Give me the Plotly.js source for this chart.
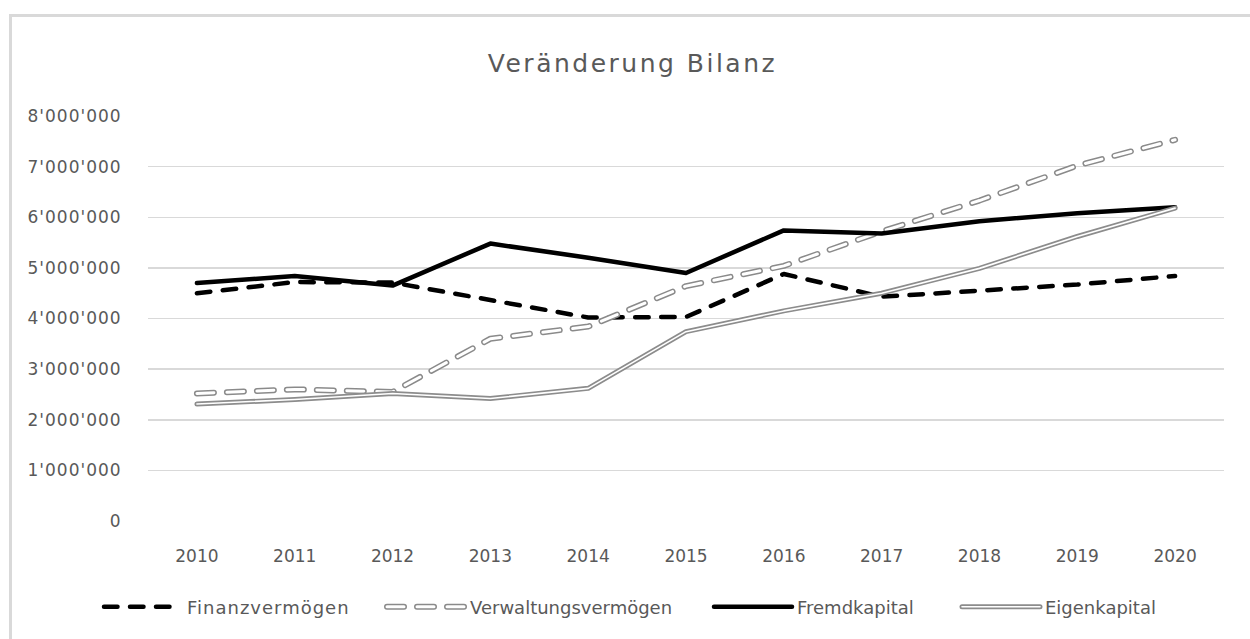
<!DOCTYPE html>
<html>
<head>
<meta charset="utf-8">
<script src="https://cdn.plot.ly/plotly-3.0.1.min.js"></script>
<style>
html,body{margin:0;padding:0;background:#fff;}
#frame{position:absolute;left:9px;top:14px;width:1300px;height:700px;border-left:3px solid #d9d9d9;border-top:3px solid #d9d9d9;}
#chart{position:absolute;left:0;top:0;width:1250px;height:639px;}
#chart path.js-line, #chart .legendlines path {stroke-linecap: round; stroke-linejoin: round;}
#chart .gtitle {letter-spacing: 2.5px;}
#chart .ytick text {letter-spacing: 1px;}
#chart .legendtext {letter-spacing: 1px;}
</style>
</head>
<body>
<div id="frame"></div>
<div id="chart"></div>
<script>
const years = ['2010','2011','2012','2013','2014','2015','2016','2017','2018','2019','2020'];
const finanzvermoegen = [4500000, 4720000, 4710000, 4370000, 4020000, 4030000, 4880000, 4430000, 4560000, 4670000, 4840000];
const verwaltungsvermoegen = [2520000, 2600000, 2550000, 3600000, 3840000, 4640000, 5040000, 5720000, 6330000, 7020000, 7530000];
const fremdkapital = [4700000, 4840000, 4650000, 5480000, 5200000, 4900000, 5740000, 5680000, 5920000, 6080000, 6200000];
const eigenkapital = [2310000, 2400000, 2520000, 2420000, 2620000, 3740000, 4150000, 4500000, 4990000, 5620000, 6180000];
const names = ['Finanzvermögen', 'Verwaltungsvermögen', 'Fremdkapital', 'Eigenkapital'];
const yTicks = [0, 1000000, 2000000, 3000000, 4000000, 5000000, 6000000, 7000000, 8000000];

const font = 'DejaVu Sans, sans-serif';
const textColor = '#595959';

const traces = [
  {x: years, y: finanzvermoegen, name: names[0], mode: 'lines', legend: 'legend',
   line: {color: '#000000', width: 4.5, dash: '13.5px,12.5px'}},
  {x: years, y: verwaltungsvermoegen, name: names[1], mode: 'lines', legend: 'legend2',
   line: {color: '#8a8a8a', width: 6, dash: '17px,13px'}},
  {x: years, y: verwaltungsvermoegen, name: '', mode: 'lines', legend: 'legend5', hoverinfo: 'skip',
   line: {color: '#ffffff', width: 3, dash: '17px,13px'}},
  {x: years, y: fremdkapital, name: names[2], mode: 'lines', legend: 'legend3',
   line: {color: '#000000', width: 4.5}},
  {x: years, y: eigenkapital, name: names[3], mode: 'lines', legend: 'legend4',
   line: {color: '#8c8c8c', width: 5}},
  {x: years, y: eigenkapital, name: '', mode: 'lines', legend: 'legend6', hoverinfo: 'skip',
   line: {color: '#ffffff', width: 1.6}}
];

function leg(xpx) {
  return {orientation: 'h', x: xpx / 1250, xref: 'container', xanchor: 'left',
          y: 1 - 607 / 639, yref: 'container', yanchor: 'middle',
          bgcolor: 'rgba(0,0,0,0)', borderwidth: 0, itemwidth: 78, entrywidth: 260,
          font: {family: font, size: 18, color: textColor}};
}

const layout = {
  width: 1250, height: 639,
  paper_bgcolor: 'rgba(0,0,0,0)', plot_bgcolor: 'rgba(0,0,0,0)',
  margin: {l: 148, r: 26, t: 116, b: 118, autoexpand: false},
  separators: ".'",
  font: {family: font, color: textColor, size: 17},
  title: {text: 'Veränderung Bilanz', font: {family: font, size: 25, color: textColor},
          x: 0.506, xref: 'container', xanchor: 'center', y: 1 - 63 / 639, yref: 'container', yanchor: 'middle'},
  xaxis: {type: 'category', range: [-0.5, 10.5], showgrid: false, zeroline: false, showline: false,
          ticks: 'outside', ticklen: 20, tickcolor: 'rgba(0,0,0,0)', tickangle: 0,
          tickfont: {family: font, size: 17, color: textColor}},
  yaxis: {range: [0, 8000000], tickvals: yTicks, tickformat: ',d', showgrid: true, gridcolor: '#d9d9d9', gridwidth: 1.5,
          zeroline: false, showline: false, ticks: 'outside', ticklen: 22, tickcolor: 'rgba(0,0,0,0)',
          tickfont: {family: font, size: 17, color: textColor}},
  showlegend: true,
  legend: leg(99),
  legend2: leg(382),
  legend3: leg(709),
  legend4: leg(957),
  legend5: leg(382),
  legend6: leg(957)
};

Plotly.newPlot('chart', traces, layout, {displayModeBar: false, staticPlot: true});
</script>
</body>
</html>
